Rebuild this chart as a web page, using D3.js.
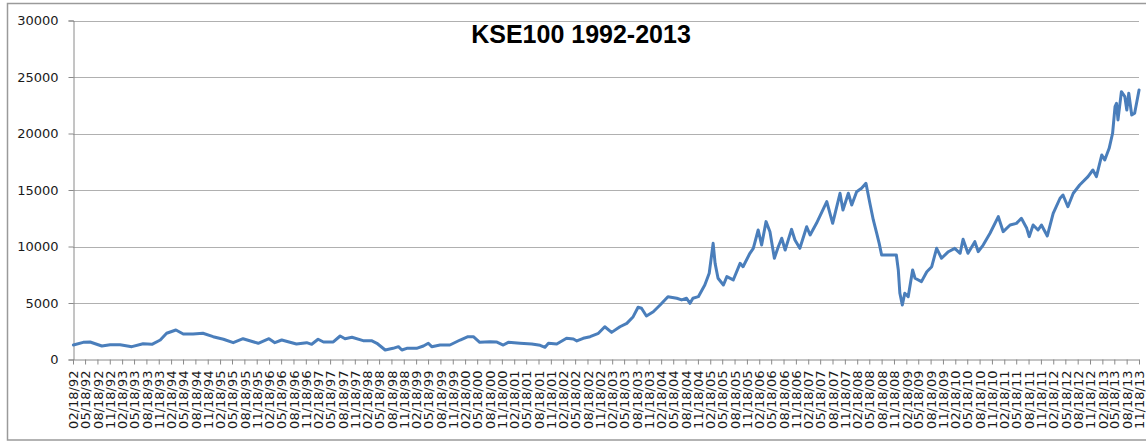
<!DOCTYPE html>
<html>
<head>
<meta charset="utf-8">
<script src="https://cdn.jsdelivr.net/npm/d3@7"></script>
<style>
  html, body { margin: 0; padding: 0; background: #fff; }
  svg { display: block; }
</style>
</head>
<body>
<svg id="chart" width="1146" height="443"></svg>
<script>
const title = "KSE100 1992-2013";

const years = [
  1992.14, 1992.34, 1992.48, 1992.72, 1992.89, 1993.09, 1993.33, 1993.56, 1993.74, 1993.91,
  1994.04, 1994.23, 1994.38, 1994.58, 1994.78, 1994.99, 1995.20, 1995.40, 1995.60, 1995.91,
  1996.13, 1996.25, 1996.39, 1996.69, 1996.90, 1997.00, 1997.13, 1997.24, 1997.44, 1997.58,
  1997.68, 1997.82, 1998.05, 1998.22, 1998.33, 1998.50, 1998.66, 1998.77, 1998.84, 1998.94,
  1999.14, 1999.28, 1999.38, 1999.45, 1999.62, 1999.82, 2000.03, 2000.19, 2000.30, 2000.43,
  2000.64, 2000.77, 2000.91, 2001.01, 2001.25, 2001.49, 2001.66, 2001.76, 2001.83, 2002.00,
  2002.20, 2002.34, 2002.41, 2002.54, 2002.68, 2002.85, 2002.98, 2003.12, 2003.29, 2003.43,
  2003.56, 2003.66, 2003.73, 2003.83, 2003.97, 2004.11, 2004.27, 2004.45, 2004.55, 2004.65,
  2004.72, 2004.78, 2004.89, 2005.02, 2005.11, 2005.19, 2005.23, 2005.29, 2005.40, 2005.47,
  2005.60, 2005.74, 2005.80, 2005.94, 2006.01, 2006.11, 2006.18, 2006.27, 2006.35, 2006.44,
  2006.52, 2006.59, 2006.66, 2006.79, 2006.86, 2006.96, 2007.10, 2007.17, 2007.30, 2007.51,
  2007.63, 2007.78, 2007.84, 2007.95, 2008.02, 2008.12, 2008.22, 2008.31, 2008.39, 2008.46,
  2008.53, 2008.58, 2008.63, 2008.93, 2008.97, 2009.00, 2009.05, 2009.10, 2009.17, 2009.26,
  2009.31, 2009.44, 2009.55, 2009.65, 2009.75, 2009.85, 2009.99, 2010.12, 2010.23, 2010.29,
  2010.39, 2010.53, 2010.60, 2010.70, 2010.84, 2011.01, 2011.11, 2011.25, 2011.38, 2011.48,
  2011.59, 2011.64, 2011.72, 2011.82, 2011.89, 2012.01, 2012.13, 2012.27, 2012.33, 2012.43,
  2012.54, 2012.67, 2012.84, 2012.94, 2013.01, 2013.12, 2013.18, 2013.27, 2013.34, 2013.39,
  2013.42, 2013.45, 2013.52, 2013.59, 2013.63, 2013.67, 2013.73, 2013.79, 2013.88
];

// KSE100 index level at each point
const values = [
  1283, 1520, 1550, 1195, 1310, 1310, 1135, 1400, 1345, 1725,
  2320, 2610, 2255, 2255, 2320, 2020, 1790, 1490, 1840, 1435,
  1840, 1490, 1725, 1370, 1490, 1345, 1790, 1550, 1550, 2080,
  1840, 1965, 1665, 1665, 1435, 840, 990, 1135, 840, 990,
  990, 1195, 1435, 1135, 1283, 1283, 1725, 2020, 2020, 1520,
  1575, 1550, 1283, 1520, 1435, 1370, 1255, 1080, 1435, 1370,
  1875, 1815, 1640, 1875, 2020, 2320, 2900, 2400, 2900, 3200,
  3790, 4620, 4530, 3850, 4230, 4820, 5560, 5420, 5270, 5420,
  4970, 5420, 5560, 6590, 7630, 10280, 8510, 7190, 6590, 7330,
  7040, 8510, 8210, 9400, 9840, 11460, 10130, 12200, 11310, 8960,
  9980, 10730, 9690, 11520, 10580, 9840, 11750, 11020, 12050, 13970,
  12050, 14710, 13230, 14710, 13670, 14850, 15150, 15590, 13820, 12350,
  11170, 10280, 9250, 9250, 7920, 5860, 4820, 5860, 5560, 7920,
  7190, 6890, 7770, 8210, 9840, 8960, 9540, 9840, 9400, 10640,
  9400, 10430, 9540, 10130, 11170, 12640, 11310, 11900, 12050, 12500,
  11610, 10870, 11900, 11460, 11900, 10930, 12940, 14270, 14560, 13520,
  14710, 15440, 16180, 16770, 16180, 18100, 17660, 18690, 20020, 22370,
  22670, 21200, 23700, 23260, 22080, 23560, 21640, 21790, 23850
];

const yTicks = [0, 5000, 10000, 15000, 20000, 25000, 30000];
const xStart = "1992-02-18";
const xEnd = "2013-11-18";
const xTickMonthStep = 3;
const xTickFormat = "%m/%d/%y";

function yearToDate(y) {
  const Y = Math.floor(y);
  const t0 = new Date(Y, 0, 1).getTime();
  return new Date(t0 + (y - Y) * 365.25 * 864e5);
}

const parse = d3.timeParse("%Y-%m-%d");
const d0 = parse(xStart), d1 = parse(xEnd);
const data = years.map((y, i) => ({ date: yearToDate(y), value: values[i] }));

const svg = d3.select("#chart");
const L = 73, R = 1139, T = 20.5, B = 359.5;

svg.append("rect").attr("x", 0).attr("y", 0).attr("width", 1146).attr("height", 443).attr("fill", "#fff");
// chart frame
svg.append("rect").attr("x", 7.5).attr("y", 3.5).attr("width", 1145).attr("height", 436.5)
  .attr("fill", "none").attr("stroke", "#9a9a9a").attr("stroke-width", 1.5);

const x = d3.scaleTime().domain([d0, d1]).range([L, R]);
const y = d3.scaleLinear().domain([0, 30000]).range([B, T]);

// gridlines
svg.append("g").selectAll("line").data(yTicks.filter(d => d > 0)).join("line")
  .attr("x1", L).attr("x2", R)
  .attr("y1", d => Math.round(y(d)) + 0.5).attr("y2", d => Math.round(y(d)) + 0.5)
  .attr("stroke", "#b0b0b0").attr("stroke-width", 1);

// y axis
const yAxis = d3.axisLeft(y).tickValues(yTicks).tickSize(5).tickPadding(10).tickFormat(d3.format("d"));
const gy = svg.append("g").attr("transform", `translate(${L + 0.5},0)`).call(yAxis);
gy.select(".domain").attr("stroke", "#8a8a8a");
gy.selectAll(".tick line").attr("stroke", "#8a8a8a");
gy.selectAll("text").attr("font-family", "DejaVu Sans").attr("font-size", 13).attr("fill", "#1a1a1a");

// x axis: every 3 months on the 18th
const xTickDates = [];
for (let t = d0; t <= d1; t = d3.timeMonth.offset(t, xTickMonthStep)) xTickDates.push(t);
const xAxis = d3.axisBottom(x).tickValues(xTickDates).tickSize(5).tickSizeOuter(0)
  .tickFormat(d3.timeFormat(xTickFormat));
const gx = svg.append("g").attr("transform", `translate(0,${B})`).call(xAxis);
gx.select(".domain").attr("stroke", "#8a8a8a");
gx.selectAll(".tick line").attr("stroke", "#8a8a8a");
gx.selectAll("text")
  .attr("font-family", "DejaVu Sans").attr("font-size", 13).attr("fill", "#1a1a1a")
  .attr("text-anchor", "end")
  .attr("transform", "rotate(-90)")
  .attr("x", -11).attr("y", 0).attr("dy", "0.36em");

// series line
const line = d3.line().x(d => x(d.date)).y(d => y(d.value));
svg.append("path").datum(data).attr("d", line)
  .attr("fill", "none").attr("stroke", "#4a7ebb").attr("stroke-width", 3)
  .attr("stroke-linejoin", "round").attr("stroke-linecap", "round");

// title
svg.append("text").attr("x", 581).attr("y", 43).attr("text-anchor", "middle")
  .attr("font-family", "Liberation Sans, Arial, sans-serif").attr("font-weight", "bold")
  .attr("font-size", 25).attr("fill", "#000").text(title);
</script>
</body>
</html>
